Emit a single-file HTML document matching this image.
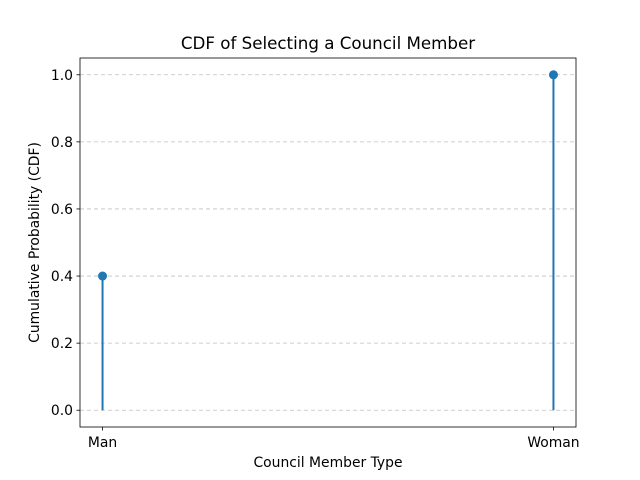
<!DOCTYPE html>
<html><head><meta charset="utf-8"><style>
body{margin:0;background:#fff;}
svg{display:block;font-family:"DejaVu Sans","Liberation Sans",sans-serif;}
</style></head><body>
<svg id="chart" width="640" height="480">
<rect width="640" height="480" fill="#fff"/>
<g id="grid"></g>
<g id="marks"></g>
<rect x="80" y="58" width="496" height="369" fill="none" stroke="#000" stroke-width="0.8"/>
<g id="axes"></g>
<text x="328" y="49" text-anchor="middle" font-size="16.7">CDF of Selecting a Council Member</text>
<text x="328" y="467" text-anchor="middle" font-size="13.9">Council Member Type</text>
<text transform="translate(39,242.5) rotate(-90)" text-anchor="middle" font-size="13.9">Cumulative Probability (CDF)</text>
</svg>
<script>
const categories=["Man","Woman"];
const cdfValues=[0.4,1.0];
const yTicks=[0,0.2,0.4,0.6,0.8,1.0];
const yTickLabels=["0.0","0.2","0.4","0.6","0.8","1.0"];
const L=80,R=576,T=58,B=427;
function xs(i){const lo=-0.05,hi=(categories.length-1)+0.05;return L+(i-lo)/(hi-lo)*(R-L);}
function ys(v){const lo=-0.05,hi=1.05;return B-(v-lo)/(hi-lo)*(B-T);}
const ns="http://www.w3.org/2000/svg";
function mk(tag,attrs,parent){const e=document.createElementNS(ns,tag);for(const k in attrs)e.setAttribute(k,attrs[k]);parent.appendChild(e);return e;}
const grid=document.getElementById('grid'),marks=document.getElementById('marks'),axes=document.getElementById('axes');
yTicks.forEach((v,i)=>{
 const y=ys(v);
 const g=mk('line',{x1:L,x2:R,y1:y,y2:y,stroke:'#b0b0b0','stroke-width':0.8,'stroke-dasharray':'4,3',opacity:0.8},grid);
 
 
 const t=mk('line',{x1:L-3.5,x2:L,y1:y,y2:y,stroke:'#000','stroke-width':0.8},axes);
 
 
 const lb=mk('text',{x:L-7,y:y+5,'text-anchor':'end','font-size':13.9},axes);
 lb.textContent=yTickLabels[i];
 
 
});
categories.forEach((c,i)=>{
 const x=xs(i);
 const t=mk('line',{x1:x,x2:x,y1:B,y2:B+3.5,stroke:'#000','stroke-width':0.8},axes);
 
 
 const lb=mk('text',{x:x,y:B+20,'text-anchor':'middle','font-size':13.9},axes);
 lb.textContent=c;
 
 
 const st=mk('line',{x1:x,x2:x,y1:ys(0),y2:ys(cdfValues[i]),stroke:'#1f77b4','stroke-width':2},marks);
 
 
 const p=mk('circle',{cx:x,cy:ys(cdfValues[i]),r:4.5,fill:'#1f77b4'},marks);
 
 
});
</script>
</body></html>
